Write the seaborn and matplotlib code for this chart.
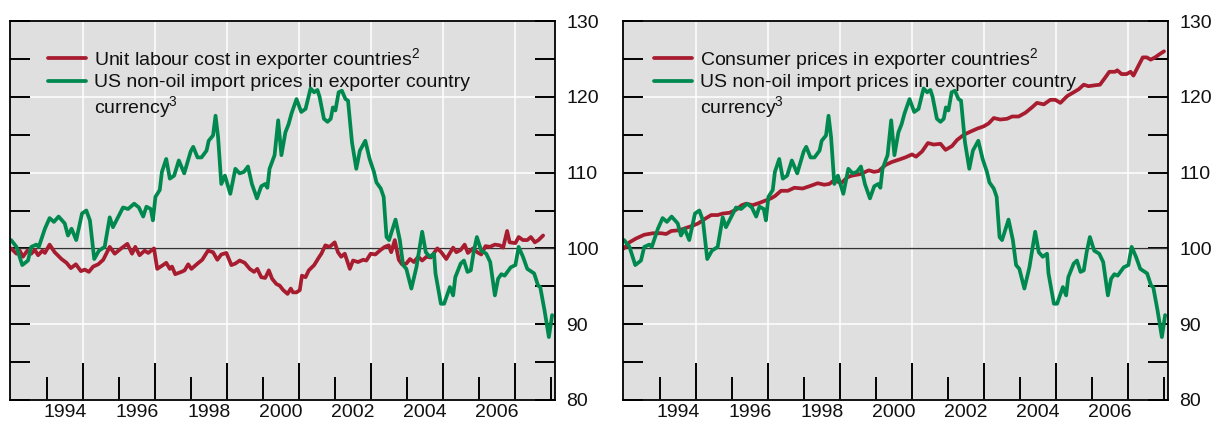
import numpy as np
import seaborn as sns
import matplotlib.pyplot as plt
from matplotlib.lines import Line2D
from matplotlib.ticker import MultipleLocator, FixedLocator, NullFormatter

# US non-oil import prices in exporter country currency (decimal years, index)
imp_t = [1993.00, 1993.15, 1993.31, 1993.47, 1993.56, 1993.70, 1993.77, 1993.94, 1994.07, 1994.19,
         1994.32, 1994.49, 1994.58, 1994.68, 1994.81, 1994.97, 1995.09, 1995.19, 1995.31, 1995.44,
         1995.60, 1995.74, 1995.83, 1996.11, 1996.25, 1996.42, 1996.55, 1996.67, 1996.76, 1996.88,
         1996.94, 1997.01, 1997.13, 1997.19, 1997.31, 1997.41, 1997.53, 1997.66, 1997.81, 1997.99,
         1998.06, 1998.18, 1998.29, 1998.43, 1998.49, 1998.61, 1998.68, 1998.75, 1998.84, 1998.94,
         1999.09, 1999.23, 1999.35, 1999.47, 1999.58, 1999.69, 1999.83, 1999.95, 2000.06, 2000.12,
         2000.18, 2000.32, 2000.42, 2000.51, 2000.62, 2000.71, 2000.79, 2000.93, 2001.06, 2001.18,
         2001.32, 2001.42, 2001.51, 2001.57, 2001.69, 2001.79, 2001.88, 2001.94, 2002.01, 2002.10,
         2002.19, 2002.29, 2002.36, 2002.47, 2002.59, 2002.69, 2002.84, 2002.96, 2003.08, 2003.15,
         2003.27, 2003.35, 2003.43, 2003.50, 2003.68, 2003.80, 2003.89, 2003.98, 2004.12, 2004.26,
         2004.42, 2004.52, 2004.63, 2004.75, 2004.79, 2004.94, 2005.03, 2005.19, 2005.28, 2005.34,
         2005.49, 2005.58, 2005.68, 2005.77, 2005.85, 2005.94, 2006.06, 2006.20, 2006.31, 2006.44,
         2006.53, 2006.62, 2006.71, 2006.88, 2007.01, 2007.10, 2007.22, 2007.34, 2007.53, 2007.64,
         2007.70, 2007.82, 2007.94, 2008.03]
imp_v = [101.1, 100.2, 97.8, 98.4, 100.2, 100.5, 100.2, 102.6, 104.0, 103.5,
         104.2, 103.3, 101.7, 102.6, 101.1, 104.6, 105.0, 103.7, 98.6, 99.7,
         100.2, 104.1, 102.8, 105.4, 105.2, 105.9, 105.4, 104.2, 105.5, 105.2,
         103.7, 106.8, 107.7, 110.1, 111.8, 109.2, 109.6, 111.6, 109.9, 112.8,
         113.4, 112.0, 112.0, 112.9, 114.2, 114.9, 117.5, 114.7, 108.5, 109.6,
         107.2, 110.5, 109.9, 110.1, 110.8, 108.5, 106.6, 108.2, 108.5, 108.0,
         110.5, 112.3, 116.9, 112.3, 115.3, 116.4, 117.8, 119.7, 118.0, 118.4,
         121.1, 120.6, 120.9, 120.0, 117.1, 116.7, 117.1, 118.6, 118.2, 120.6,
         120.8, 119.7, 119.5, 114.0, 110.5, 112.9, 114.2, 111.8, 110.1, 108.7,
         107.9, 106.8, 101.5, 101.1, 103.8, 101.1, 97.8, 97.3, 94.7, 97.5,
         102.2, 99.5, 98.9, 99.3, 96.7, 92.7, 92.7, 94.9, 93.8, 96.2,
         98.0, 98.4, 96.9, 97.1, 99.5, 101.5, 99.7, 99.3, 98.2, 93.8,
         96.0, 96.6, 96.4, 97.5, 97.8, 100.2, 98.9, 97.3, 96.7, 95.1,
         94.9, 91.8, 88.3, 91.2]

# Unit labour cost in exporter countries
ulc_t = [1993.00, 1993.15, 1993.24, 1993.33, 1993.45, 1993.56, 1993.66, 1993.75, 1993.87, 1993.94,
         1994.07, 1994.21, 1994.40, 1994.54, 1994.66, 1994.80, 1994.94, 1995.05, 1995.16, 1995.28,
         1995.42, 1995.56, 1995.74, 1995.88, 1996.06, 1996.23, 1996.36, 1996.45, 1996.57, 1996.71,
         1996.81, 1996.97, 1997.06, 1997.22, 1997.31, 1997.41, 1997.47, 1997.56, 1997.73, 1997.82,
         1997.92, 1998.01, 1998.18, 1998.31, 1998.47, 1998.61, 1998.73, 1998.84, 1998.98, 1999.12,
         1999.23, 1999.35, 1999.49, 1999.63, 1999.75, 1999.84, 1999.95, 2000.06, 2000.16, 2000.25,
         2000.37, 2000.46, 2000.56, 2000.68, 2000.77, 2000.83, 2000.93, 2001.02, 2001.08, 2001.18,
         2001.27, 2001.42, 2001.55, 2001.62, 2001.73, 2001.85, 2001.99, 2002.08, 2002.17, 2002.27,
         2002.41, 2002.50, 2002.64, 2002.78, 2002.87, 2002.99, 2003.12, 2003.24, 2003.38, 2003.49,
         2003.56, 2003.66, 2003.77, 2003.86, 2003.98, 2004.08, 2004.19, 2004.31, 2004.42, 2004.54,
         2004.66, 2004.84, 2004.95, 2005.09, 2005.28, 2005.37, 2005.49, 2005.60, 2005.69, 2005.83,
         2005.95, 2006.06, 2006.18, 2006.30, 2006.44, 2006.58, 2006.67, 2006.78, 2006.85, 2007.01,
         2007.10, 2007.22, 2007.34, 2007.44, 2007.55, 2007.65, 2007.78]
ulc_v = [100.0, 99.3, 99.7, 98.9, 99.7, 99.3, 99.8, 99.1, 99.7, 99.4,
         100.5, 99.5, 98.6, 98.1, 97.4, 97.9, 97.0, 97.2, 96.9, 97.6,
         97.9, 98.5, 100.2, 99.3, 100.0, 100.6, 99.3, 100.2, 99.1, 99.7,
         99.4, 100.0, 97.3, 97.8, 98.1, 97.3, 97.6, 96.6, 96.9, 97.1,
         97.9, 97.3, 98.0, 98.5, 99.7, 99.5, 98.5, 99.2, 99.4, 97.8,
         98.0, 98.4, 98.1, 97.3, 96.9, 97.3, 96.2, 96.1, 97.1, 96.0,
         95.3, 95.1, 94.5, 94.0, 94.7, 94.2, 94.2, 94.5, 96.4, 96.2,
         97.1, 97.8, 98.8, 99.3, 100.4, 100.2, 100.8, 99.5, 98.9, 99.3,
         97.3, 98.4, 98.2, 98.5, 98.4, 99.3, 99.2, 99.7, 100.2, 100.4,
         99.5, 101.1, 98.5, 97.9, 98.0, 98.6, 98.2, 98.9, 98.4, 98.9,
         98.8, 100.0, 99.5, 98.6, 100.1, 99.5, 99.8, 100.5, 99.4, 100.0,
         99.5, 99.2, 100.3, 100.2, 100.5, 100.4, 100.1, 102.3, 100.8, 100.7,
         101.5, 101.1, 101.1, 101.5, 100.8, 101.1, 101.7]

# Consumer prices in exporter countries
cpi_t = [1993.00, 1993.15, 1993.33, 1993.56, 1993.80, 1994.03, 1994.17, 1994.31, 1994.54, 1994.72,
         1994.91, 1995.06, 1995.28, 1995.42, 1995.60, 1995.74, 1995.93, 1996.11, 1996.27, 1996.39,
         1996.57, 1996.76, 1996.92, 1997.08, 1997.19, 1997.36, 1997.55, 1997.73, 1997.96, 1998.15,
         1998.38, 1998.56, 1998.70, 1998.84, 1999.03, 1999.21, 1999.33, 1999.56, 1999.80, 1999.94,
         2000.07, 2000.26, 2000.44, 2000.63, 2000.81, 2001.00, 2001.11, 2001.28, 2001.44, 2001.60,
         2001.79, 2001.93, 2002.11, 2002.25, 2002.44, 2002.62, 2002.81, 2002.99, 2003.13, 2003.27,
         2003.45, 2003.64, 2003.78, 2003.96, 2004.15, 2004.33, 2004.47, 2004.66, 2004.84, 2004.98,
         2005.12, 2005.31, 2005.49, 2005.63, 2005.77, 2005.90, 2006.05, 2006.22, 2006.36, 2006.48,
         2006.64, 2006.70, 2006.82, 2006.96, 2007.07, 2007.15, 2007.29, 2007.41, 2007.52, 2007.63,
         2007.75, 2007.87, 2008.00]
cpi_v = [100.0, 100.8, 101.3, 101.8, 102.0, 102.0, 101.9, 102.3, 102.4, 102.7,
         103.0, 103.3, 104.0, 104.4, 104.4, 104.6, 104.7, 105.1, 105.7, 105.9,
         105.7, 106.0, 106.3, 106.6, 106.9, 107.6, 107.6, 108.0, 107.9, 108.2,
         108.6, 108.4, 108.5, 109.0, 108.6, 109.4, 109.6, 109.8, 110.3, 110.1,
         110.2, 111.0, 111.4, 111.7, 112.0, 112.4, 112.1, 112.8, 113.9, 113.7,
         113.8, 113.0, 113.5, 114.3, 115.0, 115.4, 115.8, 116.1, 116.5, 117.2,
         117.0, 117.1, 117.4, 117.4, 117.9, 118.6, 119.2, 119.0, 119.6, 119.6,
         119.2, 120.1, 120.6, 121.0, 121.6, 121.4, 121.5, 121.6, 122.5, 123.3,
         123.3, 123.5, 123.0, 123.0, 123.3, 122.8, 124.1, 125.2, 125.2, 124.9,
         125.2, 125.6, 126.0]

year_labels = ['1994', '1996', '1998', '2000', '2002', '2004', '2006']

RED = '#a81c30'
GREEN = '#00894f'
BG = '#dfdfdf'
LW = 2.7

sns.set_theme(style='white')
plt.rcParams['font.family'] = ['Liberation Sans', 'DejaVu Sans']
plt.rcParams['mathtext.fontset'] = 'custom'
plt.rcParams['mathtext.rm'] = 'Liberation Sans'
plt.rcParams['mathtext.it'] = 'Liberation Sans:italic'

W, H = 1226, 424
fig = plt.figure(figsize=(W / 100, H / 100), dpi=100)
ax1 = fig.add_axes([10 / W, 24 / H, 545 / W, 379 / H])
ax2 = fig.add_axes([623 / W, 24 / H, 545 / W, 379 / H])


def style(ax):
    ax.set_facecolor(BG)
    ax.set_xlim(1992.97, 2008.11)
    ax.set_ylim(80, 130)
    ax.yaxis.set_major_locator(MultipleLocator(10))
    ax.yaxis.set_minor_locator(MultipleLocator(5))
    ax.tick_params(axis='y', which='both', direction='in', left=True, right=True,
                   labelleft=False, labelright=True, length=14.5, width=1.4,
                   color='black', labelsize=14, labelcolor='#111111', pad=8)
    ax.xaxis.set_major_locator(FixedLocator(np.arange(1995, 2008, 2)))
    ax.xaxis.set_minor_locator(FixedLocator(np.arange(1994, 2009, 2)))
    ax.xaxis.set_major_formatter(NullFormatter())
    ax.tick_params(axis='x', which='major', direction='in', length=27, width=1.4,
                   bottom=True, top=False, color='black')
    ax.tick_params(axis='x', which='minor', direction='in', length=16.5, width=1.4,
                   bottom=True, top=False, color='black')
    ax.grid(True, which='major', color='white', linewidth=1.1)
    ax.axhline(100, color='#333333', linewidth=1.0, zorder=1.6)
    for s in ax.spines.values():
        s.set_visible(True)
        s.set_color('black')
        s.set_linewidth(1.3)
    sec = ax.secondary_xaxis('bottom')
    sec.set_xticks(np.arange(1994.5, 2007, 2), labels=year_labels)
    sec.tick_params(length=0, labelsize=14, labelcolor='#111111', pad=3)
    sec.spines['bottom'].set_visible(False)


for ax in (ax1, ax2):
    style(ax)

sns.lineplot(x=ulc_t, y=ulc_v, ax=ax1, color=RED, lw=LW, sort=False, estimator=None)
sns.lineplot(x=imp_t, y=imp_v, ax=ax1, color=GREEN, lw=LW, sort=False, estimator=None)
sns.lineplot(x=cpi_t, y=cpi_v, ax=ax2, color=RED, lw=LW, sort=False, estimator=None)
sns.lineplot(x=imp_t, y=imp_v, ax=ax2, color=GREEN, lw=LW, sort=False, estimator=None)

labels_left = [r'Unit labour cost in exporter countries$^\mathrm{2}$',
               'US non-oil import prices in exporter country', r'currency$^\mathrm{3}$']
labels_right = [r'Consumer prices in exporter countries$^\mathrm{2}$',
                'US non-oil import prices in exporter country', r'currency$^\mathrm{3}$']

for ax, labs, x0 in ((ax1, labels_left, 0.0697), (ax2, labels_right, 0.057)):
    handles = [Line2D([], [], color=RED, lw=LW),
               Line2D([], [], color=GREEN, lw=LW),
               Line2D([], [], color='none')]
    leg = ax.legend(handles, labs, loc='upper left', bbox_to_anchor=(x0, 0.935),
                    frameon=False, fontsize=14, handlelength=1.95, handletextpad=0.4,
                    labelspacing=0.12, borderpad=0, borderaxespad=0)
    for t in leg.get_texts():
        t.set_color('#111111')
    leg.set_zorder(1.9)
    ax.set_xlabel('')
    ax.set_ylabel('')

fig.savefig('out.png', dpi=100)
